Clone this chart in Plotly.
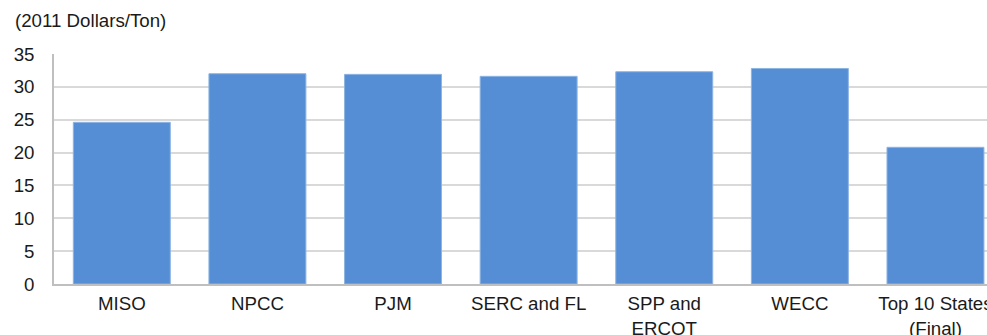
import plotly.graph_objects as go

categories = ["MISO", "NPCC", "PJM", "SERC and FL", "SPP and<br>ERCOT", "WECC", "Top 10 States<br>(Final)"]
values = [24.6, 32.0, 31.9, 31.6, 32.3, 32.8, 20.8]
y_ticks = [0, 5, 10, 15, 20, 25, 30, 35]

FONT = "Liberation Sans, Arial, sans-serif"
FS = 18.7

fig = go.Figure(
    go.Bar(
        x=categories,
        y=values,
        marker=dict(color="#558ED5", line=dict(color="#8DB4E2", width=1)),
        hoverinfo="skip",
    )
)

fig.update_layout(
    width=987,
    height=335,
    margin=dict(l=54, r=0, t=54, b=51, autoexpand=False),
    paper_bgcolor="white",
    plot_bgcolor="white",
    bargap=0.285,
    showlegend=False,
    font=dict(family=FONT, size=FS, color="#1a1a1a"),
    annotations=[
        dict(
            text="(2011 Dollars/Ton)",
            xref="paper", yref="paper",
            x=-41 / 933, y=1 + 33 / 230,
            xanchor="left", yanchor="middle",
            showarrow=False,
            font=dict(family=FONT, size=FS, color="#1a1a1a"),
        )
    ],
)

fig.update_xaxes(
    type="category",
    range=[-0.5, 6.38],
    showgrid=False,
    showline=True,
    linecolor="#BFBFBF",
    linewidth=1.5,
    ticks="",
    automargin=False,
    ticklabelstandoff=2,
    tickfont=dict(family=FONT, size=FS, color="#1a1a1a"),
    fixedrange=True,
)

fig.update_yaxes(
    range=[0, 35],
    tickvals=y_ticks,
    showgrid=True,
    gridcolor="#D9D9D9",
    gridwidth=1.5,
    showline=True,
    linecolor="#BFBFBF",
    linewidth=1.5,
    ticks="",
    zeroline=False,
    automargin=False,
    ticklabelstandoff=14,
    tickfont=dict(family=FONT, size=FS, color="#1a1a1a"),
    fixedrange=True,
)

fig.write_html(
    "out.html",
    config={"displayModeBar": False},
    post_script="document.body.style.margin='0';document.body.style.overflow='hidden';",
)
